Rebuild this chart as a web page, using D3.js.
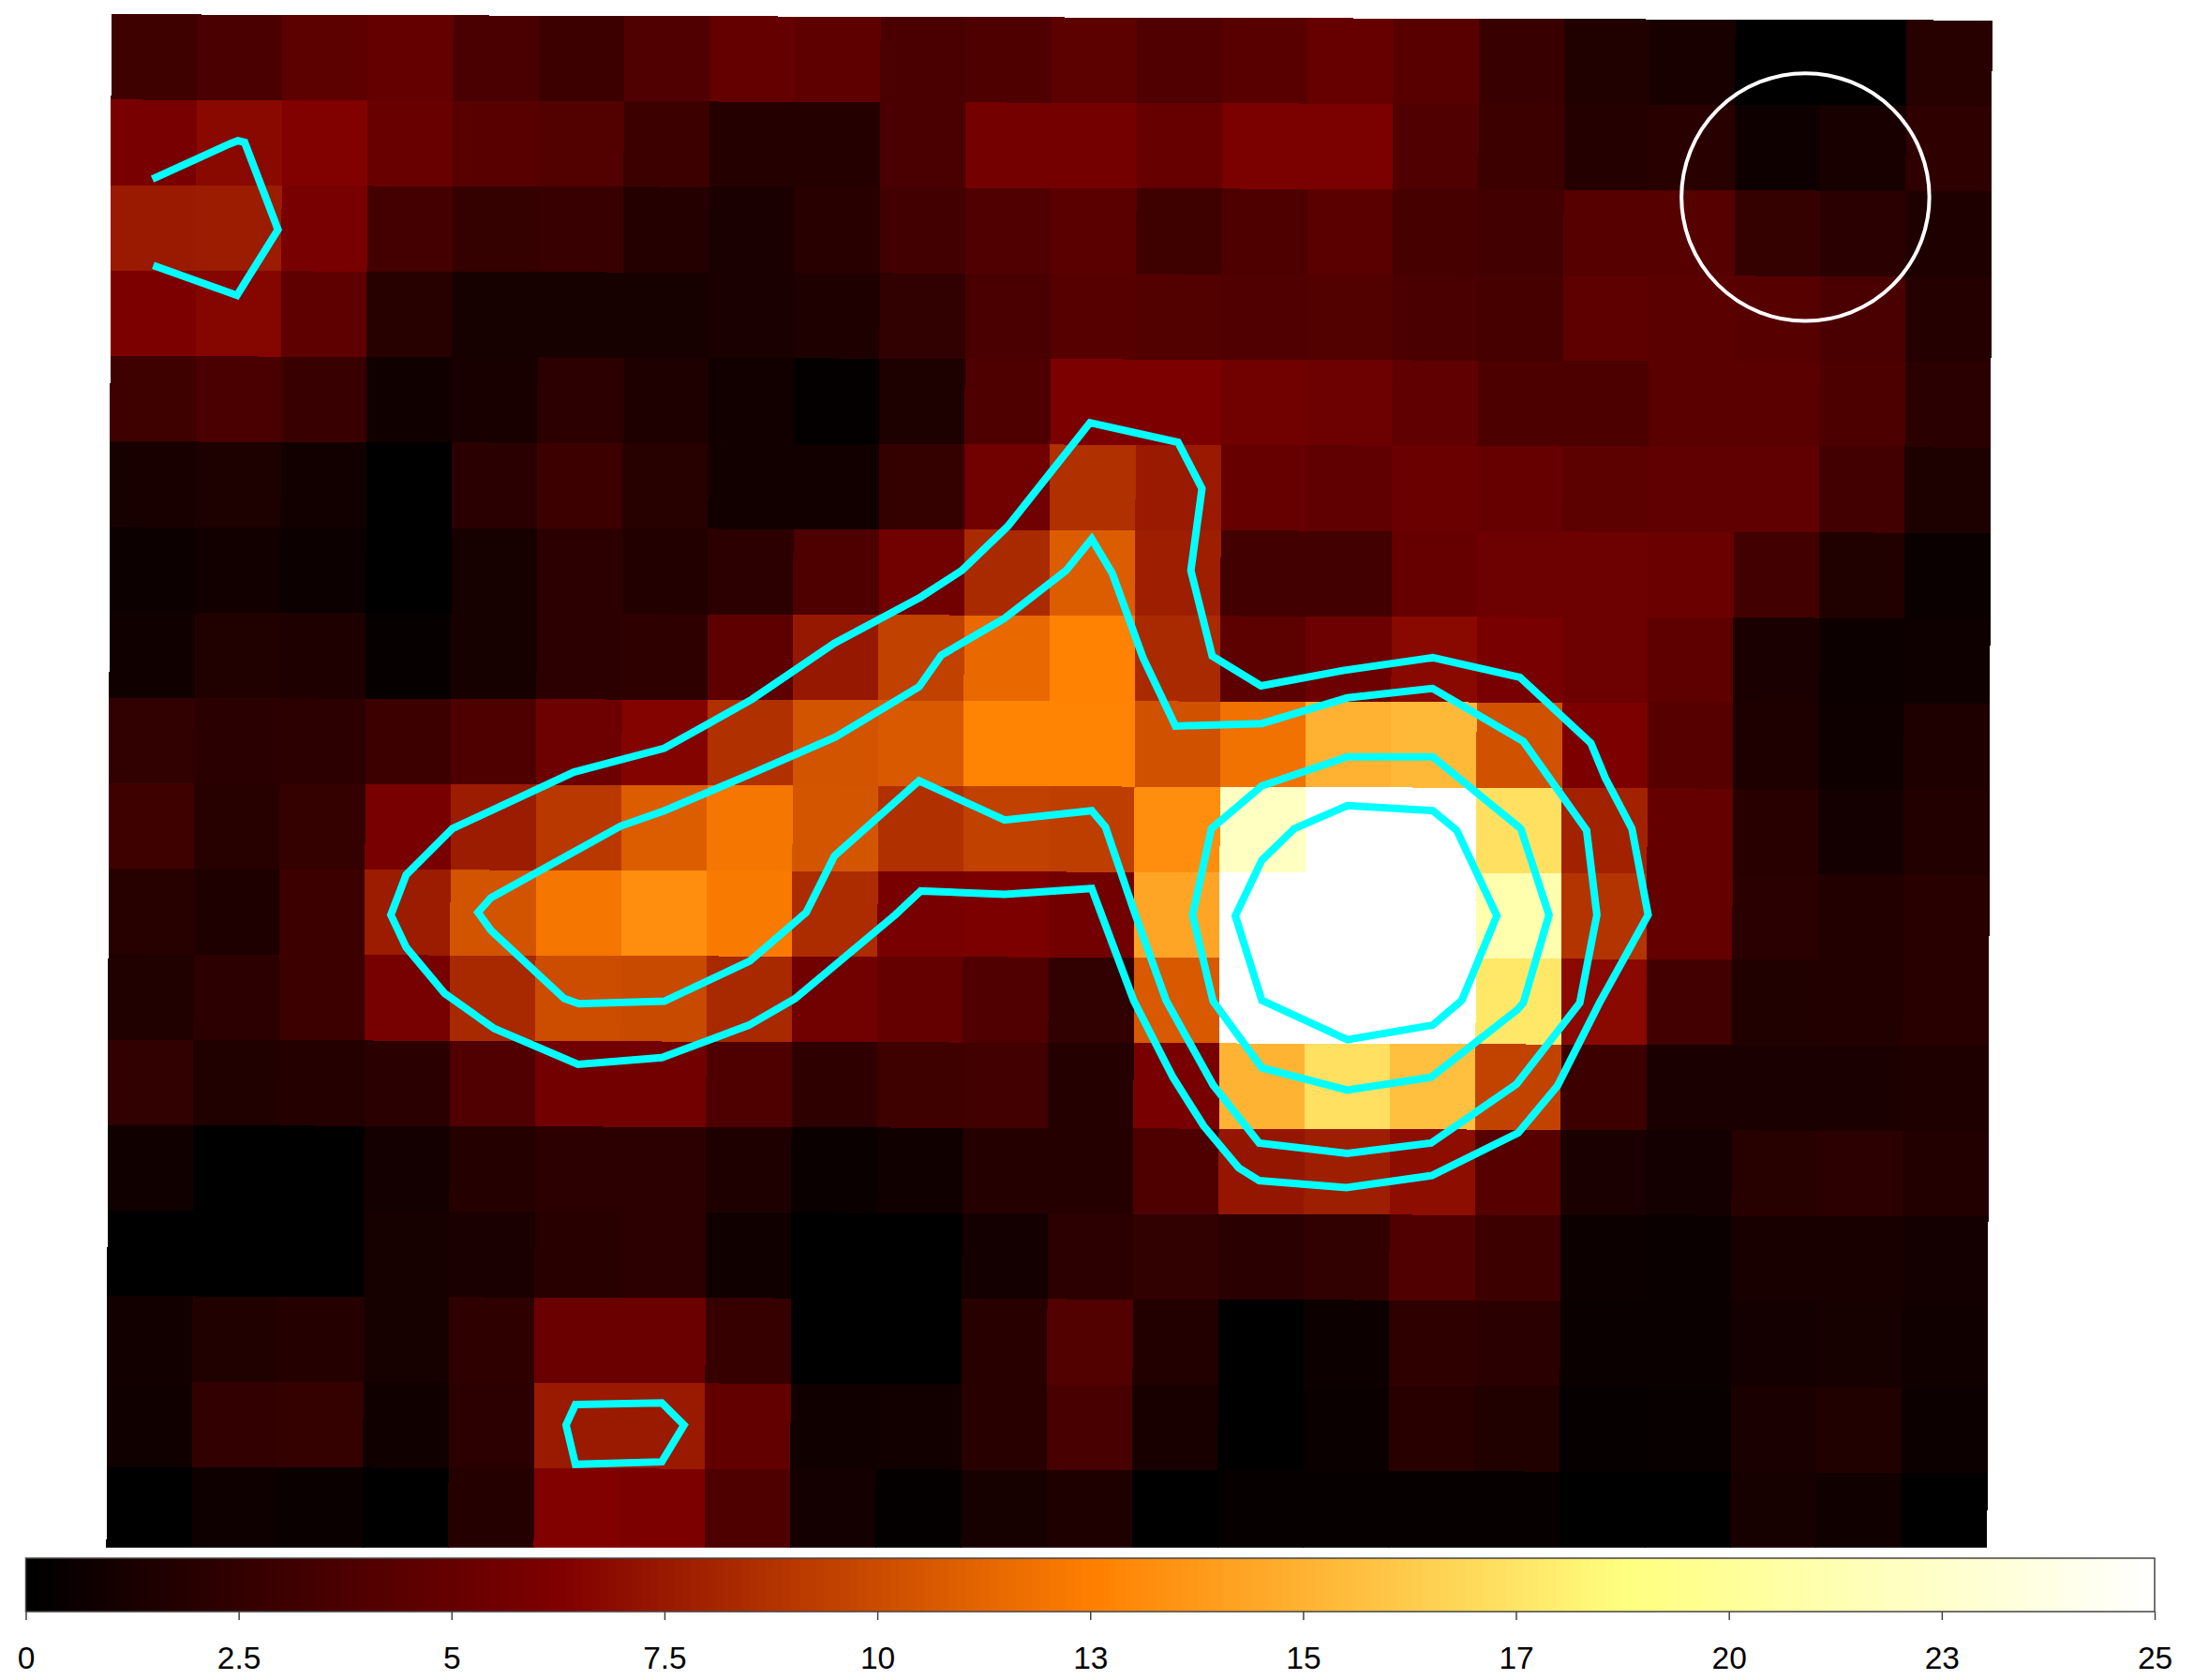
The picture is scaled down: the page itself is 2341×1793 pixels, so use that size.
<!DOCTYPE html>
<html>
<head>
<meta charset="utf-8">
<style>
  html, body { margin: 0; padding: 0; background: #fff; }
  svg { display: block; }
</style>
<script src="https://d3js.org/d3.v7.min.js"></script>
</head>
<body>
<div id="chart"></div>
<script>
// counts per pixel, top row first
const counts = [
  [3.1,3.6,4.5,4.9,3.6,3,3.9,4.9,4.6,3.6,3.8,4.5,3.9,4.3,5,4.3,2.8,1.6,1.2,0,0,1.9],
  [5.9,6.7,6.3,5.1,4.3,4,3,1.8,1.8,3.6,5.7,5.7,5,6,6,3.9,3,1.8,2,0.7,1.2,2.3],
  [7.5,7.6,5.9,3.3,2.6,2.8,1.8,1.3,2,3.2,3.9,4.4,3.1,3.8,4.4,3.4,3.2,4.2,4.2,2.6,2.1,1.5],
  [6.1,6.5,4.6,1.9,1.1,1.1,1.1,1.3,1.5,2.4,3.6,4.2,4,3.9,4,3.6,3.4,4.6,4.4,4.2,3.6,1.8],
  [3.1,3.6,2.8,0.8,1.2,2.2,1.5,0.9,0.2,1.4,3.8,6.1,6.1,5.5,5.3,4.7,3.7,3.7,4.4,4.4,3.7,2.1],
  [1.2,1.4,0.9,0,2.1,3,1.9,0.9,0.9,2.6,5.5,8.6,7.5,5,4.7,5.2,5,4.5,4.7,4.7,3.2,1.4],
  [0.6,0.9,0.6,0,1.1,2.2,1.7,2.2,3.8,5.5,8.3,10.8,7.7,3.2,3.2,5,5.3,5.3,5.2,3.2,1.6,0.5],
  [0.8,1.6,1.5,0.3,1.1,2.2,2.3,4.6,7.4,9.4,11.4,12.6,8.3,4.5,5.3,6.7,5.9,5.3,4.6,1.3,0.6,0.7],
  [2.4,2.1,2.2,3,3.8,5.3,6.4,8.6,10.3,10.6,12.7,12.7,10.2,11.8,14.9,15.3,10.2,6.1,4.2,1.5,0.7,1.5],
  [3.1,1.9,2.6,5.9,7.6,9,10.8,12,10.4,8.6,9.4,9.3,13.2,22,25,25,17.2,7.9,4.9,2,1,1.7],
  [1.9,1.5,3,7.6,10.3,12,13.2,12.2,8.4,5.9,6.1,5.6,14.3,25,25,25,21,8.8,4.9,2.1,1.7,2],
  [1.6,2.2,3,5.8,8.2,10,9.8,8.2,5.5,4.9,3.9,2.4,10.6,25,25,25,17.6,6.7,3.2,1.6,1.7,2],
  [2.4,1.6,1.8,2.1,3.9,5.6,5.6,3.8,2.3,3.1,3.2,1.8,5.9,15,17.2,15.6,9.5,3,1.3,1.3,1.3,1.5],
  [0.8,0,0,1,1.8,2.2,2.2,1.5,0.5,0.8,1.8,1.8,3.8,7.3,7.7,6.9,4.2,1.3,1,1.9,2.2,1.7],
  [0,0,0,1.1,1.3,2,2.2,0.8,0,0,1,2.2,2.4,2.1,2.4,3.9,3,0.6,0.5,1.2,1.2,1],
  [0.9,1.6,1.8,1.1,2.3,5.2,5.2,2.7,0,0,2,4,1.7,0,0.6,2.3,2.1,0.5,0.5,1,1.1,0.8],
  [0.8,2.5,2.6,0.8,2.2,7.5,7.5,4.8,0.8,0.9,2,3.5,1.2,0,0.5,2,1.6,0.3,0.4,1.3,1.6,0.6],
  [0,0.7,0.5,0,1.8,6.3,6.1,3.8,1,0.2,1.1,1.5,0,0.3,0.3,0.3,0.3,0,0,1.1,0.8,0]
];

// contours, in pixel units of the image
const contourNorth = [[0.48,1.93],[1.4,1.51],[1.48,1.48],[1.56,1.5],[1.95,2.52],[1.47,3.29],[0.49,2.94]];
const contourOuter = [[3.27,10.54],[3.45,10.07],[3.99,9.53],[5.41,8.87],[6.47,8.59],[7.49,8.02],[8.46,7.36],[9.47,6.82],[9.95,6.51],[10.49,5.99],[11.45,4.78],[12.48,5.01],[12.76,5.55],[12.63,6.51],[12.88,7.51],[13.45,7.86],[14.41,7.68],[15.46,7.53],[16.48,7.76],[17.31,8.53],[17.48,8.94],[17.79,9.53],[17.98,10.54],[17.41,11.57],[16.92,12.54],[16.46,13.09],[15.45,13.59],[14.45,13.73],[13.43,13.65],[13.19,13.5],[12.78,13.01],[12.42,12.44],[11.96,11.54],[11.47,10.23],[10.45,10.3],[9.47,10.26],[9.17,10.54],[8,11.52],[7.46,11.83],[6.44,12.21],[5.46,12.29],[4.48,11.87],[3.9,11.46],[3.45,10.92]];
const contourSecond = [[4.29,10.51],[4.44,10.34],[5.96,9.5],[6.47,9.32],[7.46,8.9],[8.47,8.46],[9.45,7.87],[9.71,7.5],[10.45,7.07],[11.17,6.51],[11.47,6.14],[11.71,6.54],[12.07,7.53],[12.45,8.33],[13.46,8.3],[14.46,8],[15.46,7.89],[16.52,8.51],[17.26,9.55],[17.38,10.54],[17.18,11.57],[16.44,12.52],[15.44,13.21],[14.46,13.33],[13.43,13.21],[12.89,12.53],[12.34,11.54],[11.96,10.48],[11.63,9.51],[11.47,9.32],[10.45,9.43],[9.45,8.97],[8.46,9.85],[8.13,10.51],[7.47,11.08],[6.47,11.55],[5.47,11.58],[5.3,11.52],[4.44,10.72]];
const contourThird = [[12.65,10.54],[12.87,9.53],[13.46,9.03],[14.46,8.69],[15.46,8.69],[16.49,9.53],[16.82,10.54],[16.52,11.57],[16.45,11.65],[15.44,12.44],[14.46,12.59],[13.46,12.33],[12.89,11.55]];
const contourCore = [[13.15,10.55],[13.46,9.9],[13.84,9.53],[14.46,9.26],[15.46,9.32],[15.74,9.55],[16.21,10.55],[15.8,11.54],[15.46,11.83],[14.46,12],[13.46,11.54]];
const contourSouth = [[5.43,16.27],[6.44,16.25],[6.7,16.51],[6.44,16.94],[5.43,16.97],[5.32,16.51]];

const closedContours = [contourOuter, contourSecond, contourThird, contourCore, contourSouth];

// background region marker: x, y, r in pixel units
const bgRegion = [19.82, 2.14, 1.45];

const colorStops = [0, 6.25, 12.5, 18.75, 25];
const colorValues = ["#000000", "#800000", "#ff8000", "#ffff80", "#ffffff"];
const barTicks = [0, 2.5, 5, 7.5, 10, 12.5, 15, 17.5, 20, 22.5, 25];
const barLabels = ["0", "2.5", "5", "7.5", "10", "13", "15", "17", "20", "23", "25"];

const width = 2341;
const height = 1793;
const tilt = 0.186; // the image sits very slightly rotated on the page

const svg = d3
  .select("#chart")
  .append("svg")
  .attr("width", width)
  .attr("height", height)
  .style("font-family", "'Liberation Sans', Arial, sans-serif");

const x = d3.scaleLinear().domain([0, 22]).range([118.8, 2125.2]);
const y = d3.scaleLinear().domain([0, 18]).range([15.2, 1656.8]);
const color = d3.scaleLinear().domain(colorStops).range(colorValues).clamp(true);

const cells = counts.flatMap((row, r) => row.map((v, c) => ({ r, c, v })));

svg
  .append("defs")
  .append("clipPath")
  .attr("id", "image-clip")
  .append("rect")
  .attr("x", 0)
  .attr("y", 0)
  .attr("width", width)
  .attr("height", 1651.7);

svg
  .append("g")
  .attr("clip-path", "url(#image-clip)")
  .append("g")
  .attr("transform", `rotate(${tilt} ${x(0)} ${y(0)})`)
  .selectAll("rect")
  .data(cells)
  .join("rect")
  .attr("x", d => x(d.c))
  .attr("y", d => y(d.r))
  .attr("width", x(1) - x(0) + 0.5)
  .attr("height", y(1) - y(0) + 0.5)
  .attr("fill", d => color(d.v))
  .attr("shape-rendering", "crispEdges");

const contourLine = d3
  .line()
  .x(d => x(d[0]))
  .y(d => y(d[1]));

const contours = svg
  .append("g")
  .attr("fill", "none")
  .attr("stroke", "#00ffff")
  .attr("stroke-width", 8)
  .attr("stroke-linejoin", "miter");

contours
  .selectAll("path.closed")
  .data(closedContours)
  .join("path")
  .attr("class", "closed")
  .attr("d", d => contourLine(d) + "Z");

contours.append("path").attr("d", contourLine(contourNorth));

svg
  .append("circle")
  .attr("cx", x(bgRegion[0]))
  .attr("cy", y(bgRegion[1]))
  .attr("r", x(bgRegion[2]) - x(0))
  .attr("fill", "none")
  .attr("stroke", "#ffffff")
  .attr("stroke-width", 4);

/* Colour bar */
const barTop = 1663;
const barBottom = 1720;
const barX = d3.scaleLinear().domain([0, 25]).range([27.5, 2299]);
const barSteps = d3.range(0, 25, 25 / 256);

svg
  .append("g")
  .selectAll("rect")
  .data(barSteps)
  .join("rect")
  .attr("x", d => barX(d))
  .attr("y", barTop)
  .attr("width", barX(25 / 256) - barX(0) + 0.5)
  .attr("height", barBottom - barTop)
  .attr("fill", d => color(d))
  .attr("shape-rendering", "crispEdges");

svg
  .append("rect")
  .attr("x", barX(0))
  .attr("y", barTop)
  .attr("width", barX(25) - barX(0))
  .attr("height", barBottom - barTop)
  .attr("fill", "none")
  .attr("stroke", "#444")
  .attr("stroke-width", 1.5);

const barAxis = svg
  .append("g")
  .attr("transform", `translate(0,${barBottom})`)
  .call(
    d3
      .axisBottom(barX)
      .tickValues(barTicks)
      .tickFormat((d, i) => barLabels[i])
      .tickSize(9)
      .tickPadding(28)
  );

barAxis.select(".domain").remove();
barAxis.selectAll("line").attr("stroke", "#444").attr("stroke-width", 1.5);
barAxis
  .selectAll("text")
  .attr("fill", "#000")
  .style("font-size", "33.5px")
  .style("font-family", "'Liberation Sans', Arial, sans-serif");
</script>
</body>
</html>
